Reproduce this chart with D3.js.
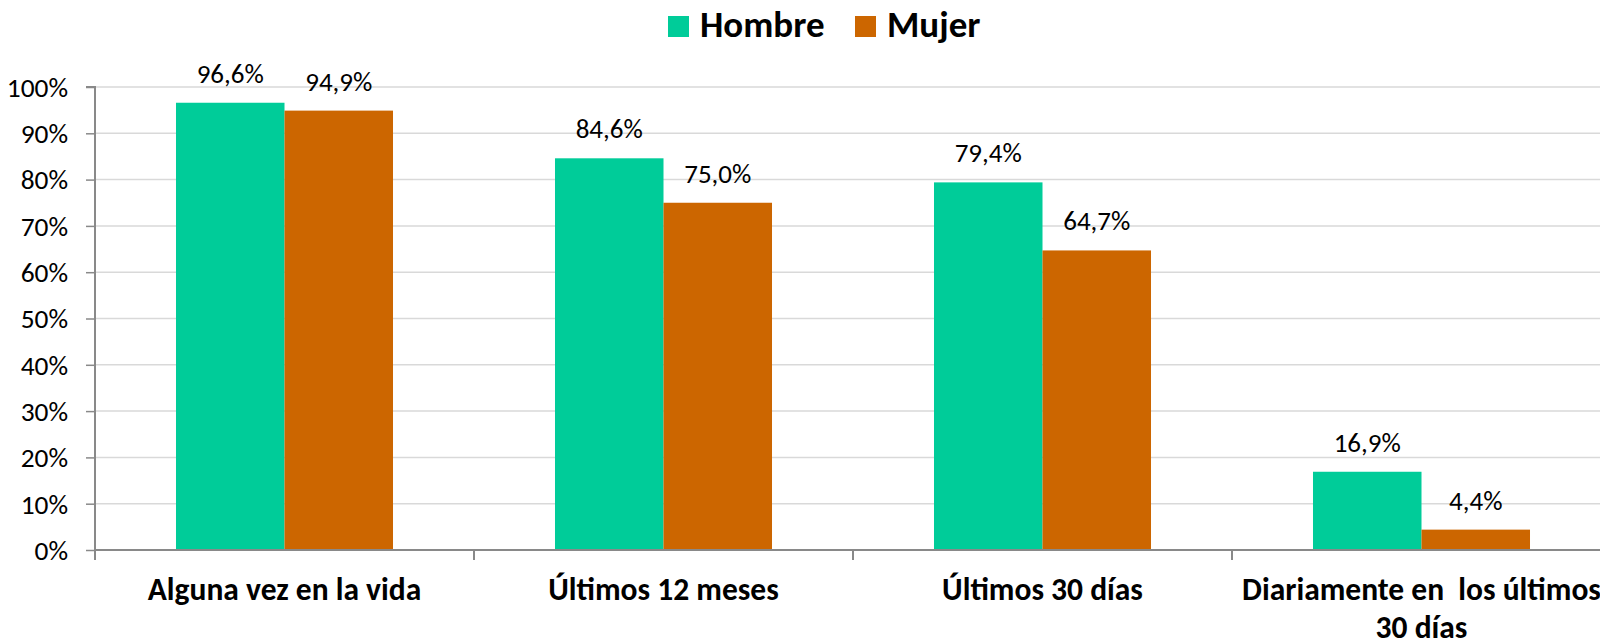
<!DOCTYPE html>
<html>
<head>
<meta charset="utf-8">
<script src="https://cdn.jsdelivr.net/npm/d3@7"></script>
<style>
  html, body { margin: 0; padding: 0; background: #fff; overflow: hidden; }
  svg { display: block; font-family: Carlito, Calibri, Lato, sans-serif; }
</style>
</head>
<body>
<div id="chart"></div>
<script>
const categories = ["Alguna vez en la vida", "Últimos 12 meses", "Últimos 30 días", "Diariamente en  los últimos|30 días"];
const seriesNames = ["Hombre", "Mujer"];
const hombreValues = [96.6, 84.6, 79.4, 16.9];
const mujerValues = [94.9, 75.0, 64.7, 4.4];
const yTicks = [0, 10, 20, 30, 40, 50, 60, 70, 80, 90, 100];

const W = 1600, H = 644;
const colors = { Hombre: "#00CC99", Mujer: "#CC6600" };
const plot = { left: 95, top: 87, bottom: 550, bandW: 379 };

const svg = d3.select("#chart").append("svg")
    .attr("width", W)
    .attr("height", H);

const x0 = d3.scaleBand()
    .domain(categories)
    .range([plot.left, plot.left + plot.bandW * categories.length])
    .padding(0);

const gap = 0.2137 * x0.bandwidth();
const x1 = d3.scaleBand()
    .domain(seriesNames)
    .range([gap, x0.bandwidth() - gap])
    .padding(0);

const y = d3.scaleLinear()
    .domain([0, 100])
    .range([plot.bottom, plot.top]);

// gridlines
svg.append("g")
    .selectAll("line")
    .data(yTicks.filter(d => d > 0))
    .join("line")
    .attr("x1", plot.left)
    .attr("x2", W)
    .attr("y1", d => y(d))
    .attr("y2", d => y(d))
    .attr("stroke", "#d9d9d9")
    .attr("stroke-width", 1.5);

// bars
const data = categories.map((c, i) => ({ cat: c, values: [
    { name: "Hombre", value: hombreValues[i] },
    { name: "Mujer", value: mujerValues[i] }
] }));

const groups = svg.append("g")
    .selectAll("g")
    .data(data)
    .join("g")
    .attr("transform", d => `translate(${x0(d.cat)},0)`);

groups.selectAll("rect")
    .data(d => d.values)
    .join("rect")
    .attr("x", d => x1(d.name))
    .attr("y", d => y(d.value))
    .attr("width", x1.bandwidth())
    .attr("height", d => y(0) - y(d.value))
    .attr("fill", d => colors[d.name]);

groups.selectAll("text")
    .data(d => d.values)
    .join("text")
    .attr("x", d => x1(d.name) + x1.bandwidth() / 2)
    .attr("y", d => y(d.value) - 20)
    .attr("text-anchor", "middle")
    .attr("font-size", "27px")
    .attr("fill", "#000")
    .text(d => d.value.toFixed(1).replace(".", ",") + "%");

// y axis
const yAxis = svg.append("g")
    .attr("transform", `translate(${plot.left},0)`)
    .call(d3.axisLeft(y).tickValues(yTicks).tickFormat(d => d + "%").tickSize(9).tickPadding(18));
yAxis.select(".domain").attr("stroke", "#898989").attr("stroke-width", 2)
    .attr("d", `M-9,${plot.top}H0V${plot.bottom + 10}`);
yAxis.selectAll(".tick line").attr("stroke", "#898989").attr("stroke-width", 1.5);
yAxis.selectAll(".tick text").attr("font-size", "27.4px").attr("fill", "#000")
    .attr("dy", "0.34em")
    .attr("font-family", "Carlito, Calibri, Lato, sans-serif");

// x axis baseline and category ticks
const xAxis = svg.append("g");
xAxis.append("line")
    .attr("x1", plot.left).attr("x2", W)
    .attr("y1", y(0)).attr("y2", y(0))
    .attr("stroke", "#898989").attr("stroke-width", 2);
xAxis.selectAll(".cat-tick")
    .data(categories.slice(1))
    .join("line")
    .attr("class", "cat-tick")
    .attr("x1", d => x0(d)).attr("x2", d => x0(d))
    .attr("y1", y(0)).attr("y2", y(0) + 10)
    .attr("stroke", "#898989").attr("stroke-width", 2);

// category labels
xAxis.selectAll(".cat-label")
    .data(categories)
    .join("text")
    .attr("class", "cat-label")
    .attr("x", d => x0(d) + x0.bandwidth() / 2)
    .attr("y", 600)
    .attr("text-anchor", "middle")
    .attr("font-size", "31.5px")
    .attr("font-weight", "bold")
    .attr("fill", "#000")
    .style("white-space", "pre")
    .each(function(d) {
        const parts = d.split("|");
        const t = d3.select(this);
        parts.forEach((p, i) => {
            t.append("tspan")
                .attr("x", x0(d) + x0.bandwidth() / 2)
                .attr("dy", i === 0 ? 0 : 38)
                .text(p);
        });
    });

// legend
const legend = svg.append("g");
const legendX = [668, 855];
seriesNames.forEach((name, i) => {
    legend.append("rect")
        .attr("x", legendX[i]).attr("y", 16)
        .attr("width", 21).attr("height", 21)
        .attr("fill", colors[name]);
    legend.append("text")
        .attr("x", legendX[i] + 32).attr("y", 37)
        .attr("font-size", "37px")
        .attr("font-weight", "bold")
        .attr("fill", "#000")
        .text(name);
});
</script>
</body>
</html>
